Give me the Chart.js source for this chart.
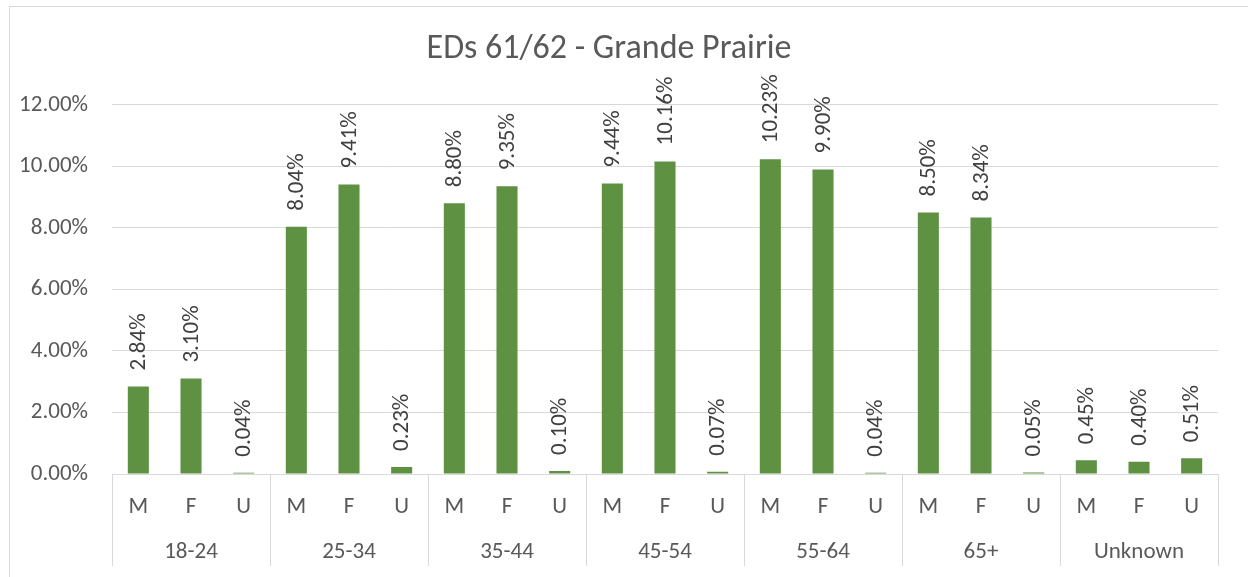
<!DOCTYPE html>
<html><head><meta charset="utf-8">
<script src="https://cdn.jsdelivr.net/npm/chart.js@4"></script>
<style>html,body{margin:0;padding:0;background:#fff;overflow:hidden}</style>
</head><body>
<canvas id="c" width="1248" height="577"></canvas>
<script>
const chartTitle = 'EDs 61/62 - Grande Prairie';
const groups = ['18-24', '25-34', '35-44', '45-54', '55-64', '65+', 'Unknown'];
const genders = ['M', 'F', 'U'];
const values = [
  2.84, 3.10, 0.04,
  8.04, 9.41, 0.23,
  8.80, 9.35, 0.10,
  9.44, 10.16, 0.07,
  10.23, 9.90, 0.04,
  8.50, 8.34, 0.05,
  0.45, 0.40, 0.51
];
const yTicks = [0, 2, 4, 6, 8, 10, 12];

const FONT = 'Calibri, Carlito, Lato, sans-serif';
const labels = [];
groups.forEach(() => genders.forEach(g => labels.push(g)));

const framePlugin = {
  id: 'frame',
  beforeDraw(chart) {
    const ctx = chart.ctx;
    ctx.save();
    ctx.fillStyle = '#fff';
    ctx.fillRect(0, 0, chart.width, chart.height);
    ctx.strokeStyle = '#d9d9d9';
    ctx.lineWidth = 1;
    ctx.strokeRect(9.5, 6.5, chart.width + 10, chart.height + 10);
    ctx.restore();
  }
};

const labelPlugin = {
  id: 'barLabels',
  afterDatasetsDraw(chart) {
    const ctx = chart.ctx;
    const meta = chart.getDatasetMeta(0);
    ctx.save();
    ctx.fillStyle = '#404040';
    ctx.font = '23px ' + FONT;
    ctx.textAlign = 'left';
    ctx.textBaseline = 'middle';
    meta.data.forEach((bar, i) => {
      ctx.save();
      ctx.translate(bar.x + 1, bar.y - 16);
      ctx.rotate(-Math.PI / 2);
      ctx.fillText(values[i].toFixed(2) + '%', 0, 0);
      ctx.restore();
    });
    ctx.restore();
  }
};

const groupPlugin = {
  id: 'groupAxis',
  afterDraw(chart) {
    const ctx = chart.ctx;
    const xs = chart.scales.x;
    const bottom = chart.chartArea.bottom;
    const step = xs.getPixelForValue(1) - xs.getPixelForValue(0);
    ctx.save();
    ctx.strokeStyle = '#d9d9d9';
    ctx.lineWidth = 1;
    for (let g = 0; g <= groups.length; g++) {
      const x = Math.round(xs.getPixelForValue(g * genders.length) - step / 2) + 0.5;
      ctx.beginPath();
      ctx.moveTo(x, bottom);
      ctx.lineTo(x, 566);
      ctx.stroke();
    }
    ctx.fillStyle = '#595959';
    ctx.font = '23px ' + FONT;
    ctx.textAlign = 'center';
    ctx.textBaseline = 'middle';
    groups.forEach((name, g) => {
      const x = xs.getPixelForValue(g * genders.length + 1);
      ctx.fillText(name, x, 552);
    });
    ctx.restore();
  }
};

new Chart(document.getElementById('c'), {
  type: 'bar',
  data: {
    labels: labels,
    datasets: [{
      data: values,
      backgroundColor: '#5E9242',
      borderWidth: 0,
      barPercentage: 0.4,
      categoryPercentage: 1.0
    }]
  },
  options: {
    responsive: false,
    animation: false,
    devicePixelRatio: 1,
    layout: { padding: { left: 0, right: 30, top: 29, bottom: 0 } },
    plugins: {
      legend: { display: false },
      tooltip: { enabled: false },
      title: {
        display: true,
        text: chartTitle,
        color: '#595959',
        font: { family: FONT, size: 34, weight: 'normal' },
        padding: { top: 0, bottom: 35 }
      }
    },
    scales: {
      x: {
        grid: { display: false, drawTicks: false },
        border: { display: false },
        ticks: {
          color: '#595959',
          font: { family: FONT, size: 23 },
          padding: 19,
          maxRotation: 0,
          autoSkip: false
        },
        afterFit(s) { s.height = 103; }
      },
      y: {
        min: 0,
        max: 12,
        afterBuildTicks(s) { s.ticks = yTicks.map(v => ({ value: v })); },
        grid: { color: '#d9d9d9', drawTicks: false, lineWidth: 1 },
        border: { display: false },
        ticks: {
          color: '#595959',
          font: { family: FONT, size: 23 },
          padding: 24,
          callback: v => v.toFixed(2) + '%'
        },
        afterFit(s) { s.width = 112; }
      }
    }
  },
  plugins: [framePlugin, labelPlugin, groupPlugin]
});
</script>
</body></html>
